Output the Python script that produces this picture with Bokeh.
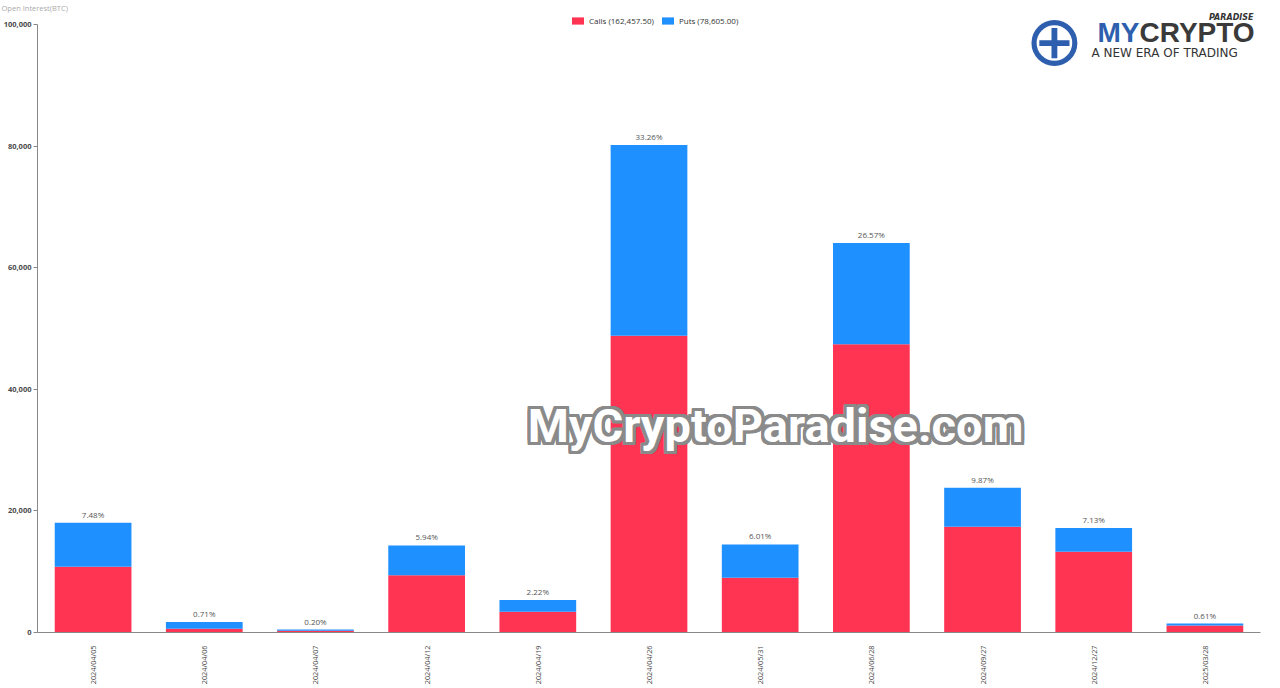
from bokeh.plotting import figure
from bokeh.models import (FactorRange, Range1d, CategoricalAxis, FixedTicker,
                          NumeralTickFormatter, Legend, LegendItem, Label, ColumnDataSource)
from bokeh.core.properties import value
from bokeh.embed import file_html
from bokeh.resources import INLINE
import math

# ---- data ----
categories = ["2024/04/05", "2024/04/06", "2024/04/07", "2024/04/12", "2024/04/19",
              "2024/04/26", "2024/05/31", "2024/06/28", "2024/09/27", "2024/12/27",
              "2025/03/28"]
calls = [10800, 600, 300, 9400, 3400, 48800, 9000, 47400, 17400, 13300, 1150]
puts = [7231, 1112, 182, 4919, 1952, 31377, 5488, 16650, 6393, 3888, 320]
pct_labels = ["7.48%", "0.71%", "0.20%", "5.94%", "2.22%", "33.26%", "6.01%",
              "26.57%", "9.87%", "7.13%", "0.61%"]
legend_labels = ["Calls (162,457.50)", "Puts (78,605.00)"]
y_ticks = [0, 20000, 40000, 60000, 80000, 100000]

CALL_COLOR = "#ff3352"
PUT_COLOR = "#1e90ff"
FONT = "Open Sans"

totals = [c + p for c, p in zip(calls, puts)]
src = ColumnDataSource(dict(cat=categories, calls=calls, puts=puts, total=totals, pct=pct_labels))

FW, FH = 1223, 620
p = figure(width=1264, height=672, x_range=FactorRange(*categories, range_padding=0),
           y_range=Range1d(0, 101974), output_backend="svg", toolbar_location=None,
           x_axis_location=None, frame_width=FW, frame_height=FH,
           min_border_top=0, min_border_right=11, min_border_bottom=0, min_border_left=0,
           title="Open Interest(BTC)")
p.outline_line_color = None
p.xgrid.visible = False
p.ygrid.visible = False
p.background_fill_color = "white"

p.title.text_font = FONT
p.title.text_font_size = "7.5px"
p.title.text_font_style = "normal"
p.title.text_color = "#aaaaaa"
p.title.align = "left"
p.title.offset = -36
p.title.standoff = 0

# y axis
ya = p.yaxis[0]
ya.ticker = FixedTicker(ticks=y_ticks)
ya.bounds = (0, 100000)
ya.formatter = NumeralTickFormatter(format="0,0")
ya.major_label_text_font = FONT
ya.major_label_text_font_size = "7.5px"
ya.major_label_text_font_style = "bold"
ya.major_label_text_color = "#4a4a4a"
ya.major_label_standoff = 2
ya.major_tick_out = 4
ya.major_tick_in = 0
ya.minor_tick_line_color = None
ya.axis_line_color = "#888888"
ya.major_tick_line_color = "#888888"

# x axis
cat_axis = CategoricalAxis(axis_line_color="#888888", major_tick_line_color=None,
                           minor_tick_line_color=None, major_label_standoff=7,
                           major_label_orientation=math.pi / 2,
                           major_label_text_font=FONT,
                           major_label_text_font_size="7.3px",
                           major_label_text_color="#444444")
p.add_layout(cat_axis, "below")

# bars
rs = p.vbar_stack(["calls", "puts"], x="cat", width=0.69, source=src,
                  color=[CALL_COLOR, PUT_COLOR], line_color=None)

# percentage labels
p.text(x="cat", y="total", text="pct", source=src, text_align="center",
       text_baseline="bottom", y_offset=-3, text_font=value(FONT),
       text_font_size="8px", text_color="#555555")

# legend
legend = Legend(items=[LegendItem(label=legend_labels[0], renderers=[rs[0]]),
                       LegendItem(label=legend_labels[1], renderers=[rs[1]])],
                orientation="horizontal", location=(533, 606),
                border_line_color=None, background_fill_alpha=0,
                glyph_width=15, glyph_height=9, label_text_font=FONT,
                label_text_font_size="8px", label_text_color="#333333",
                padding=0, spacing=6, label_standoff=4, margin=0,
                label_height=10)
p.add_layout(legend, "center")

# watermark
wm_x, wm_y = 738, 207
for dx in (-3, -2, 0, 2, 3):
    for dy in (-3, -2, 0, 2, 3):
        if dx == 0 and dy == 0:
            continue
        p.add_layout(Label(x=wm_x + dx, y=wm_y + dy, x_units="screen", y_units="screen",
                           text="MyCryptoParadise.com", text_align="center",
                           text_baseline="middle", text_font="Roboto",
                           text_font_style="bold", text_font_size="47px",
                           text_color="#8a8a8a"))
p.add_layout(Label(x=wm_x, y=wm_y, x_units="screen", y_units="screen",
                   text="MyCryptoParadise.com", text_align="center",
                   text_baseline="middle", text_font="Roboto",
                   text_font_style="bold", text_font_size="47px",
                   text_color="white"))

# logo (top right)
p.add_layout(Label(x=1017, y=592, x_units="screen", y_units="screen", text="\u2295",
                   text_align="center", text_baseline="middle",
                   text_font="DejaVu Sans", text_font_size="70px",
                   text_color="#2d5fae"))
p.add_layout(Label(x=1102, y=600, x_units="screen", y_units="screen", text="MY",
                   text_align="right", text_baseline="middle",
                   text_font="Liberation Sans", text_font_style="bold",
                   text_font_size="28px", text_color="#2d5fae"))
p.add_layout(Label(x=1102, y=600, x_units="screen", y_units="screen", text="CRYPTO",
                   text_align="left", text_baseline="middle",
                   text_font="Liberation Sans", text_font_style="bold",
                   text_font_size="28px", text_color="#3a3a3a"))
p.add_layout(Label(x=1216, y=615, x_units="screen", y_units="screen", text="PARADISE",
                   text_align="right", text_baseline="middle",
                   text_font="DejaVu Sans", text_font_style="bold italic",
                   text_font_size="8px", text_color="#333333"))
p.add_layout(Label(x=1054, y=580, x_units="screen", y_units="screen",
                   text="A NEW ERA OF TRADING", text_align="left",
                   text_baseline="middle", text_font="DejaVu Sans",
                   text_font_size="12px", text_color="#333333"))

open("out.html", "w").write(file_html(p, INLINE))
